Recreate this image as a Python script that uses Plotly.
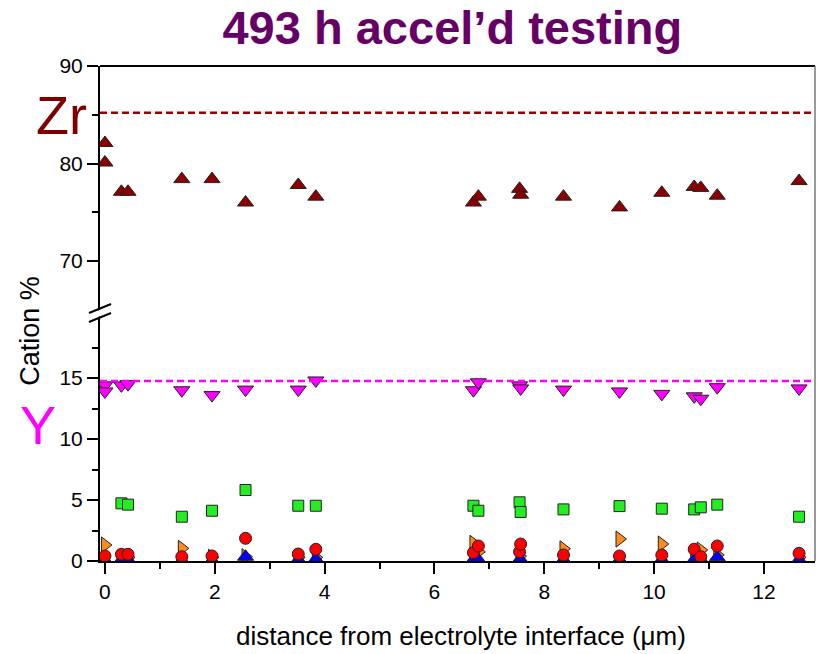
import plotly.graph_objects as go

# ---------------- data ----------------
zr_x = [0, 0, 0.30, 0.42, 1.40, 1.95, 2.56, 3.52, 3.84, 6.71, 6.80, 7.55, 7.57, 8.35, 9.37, 10.14, 10.73, 10.85, 11.15, 12.64]
zr_y = [82.1, 80.1, 77.1, 77.1, 78.4, 78.4, 76.0, 77.8, 76.6, 76.0, 76.6, 77.4, 76.8, 76.6, 75.5, 77.0, 77.6, 77.5, 76.7, 78.2]

y_x = [0, 0, 0.30, 0.42, 1.40, 1.95, 2.56, 3.52, 3.84, 6.71, 6.80, 7.55, 7.57, 8.35, 9.37, 10.14, 10.73, 10.85, 11.15, 12.64]
y_y = [14.4, 13.9, 14.4, 14.5, 14.0, 13.6, 14.05, 14.05, 14.8, 14.0, 14.65, 14.4, 14.15, 14.05, 13.9, 13.7, 13.5, 13.3, 14.25, 14.15]

green_x = [0.30, 0.42, 1.40, 1.95, 2.56, 3.52, 3.84, 6.71, 6.80, 7.55, 7.57, 8.35, 9.37, 10.14, 10.73, 10.85, 11.15, 12.64]
green_y = [4.73, 4.62, 3.63, 4.12, 5.82, 4.53, 4.53, 4.53, 4.12, 4.81, 4.02, 4.23, 4.50, 4.29, 4.23, 4.40, 4.62, 3.63]

orange_x = [0, 0.30, 0.42, 1.40, 1.95, 2.56, 3.52, 3.84, 6.71, 6.80, 7.55, 8.35, 9.37, 10.14, 10.73, 10.85, 11.15, 12.64]
orange_y = [1.31, 0.30, 0.30, 1.04, 0.30, 0.35, 0.30, 0.30, 1.45, 0.75, 0.40, 1.00, 1.80, 1.39, 0.40, 0.90, 0.50, 0.30]

blue_x = [0, 0.30, 0.42, 1.40, 1.95, 2.56, 3.52, 3.84, 6.71, 6.80, 7.55, 7.57, 8.35, 9.37, 10.14, 10.73, 10.85, 11.15, 12.64]
blue_y = [0.05, 0.10, 0.10, 0.05, 0.05, 0.35, 0.10, 0.15, 0.10, 0.10, 0.10, 0.10, 0.10, 0.10, 0.10, 0.10, 0.10, 0.30, 0.10]

red_x = [0, 0.30, 0.42, 1.40, 1.95, 2.56, 3.52, 3.84, 6.71, 6.80, 7.55, 7.57, 8.35, 9.37, 10.14, 10.73, 10.85, 11.15, 12.64]
red_y = [0.41, 0.55, 0.55, 0.35, 0.41, 1.86, 0.57, 0.96, 0.68, 1.23, 0.76, 1.39, 0.49, 0.41, 0.49, 0.96, 0.35, 1.23, 0.63]

ZR_REF = 85.2
Y_REF = 14.75

x_ticks = [0, 2, 4, 6, 8, 10, 12]
low_ticks = [0, 5, 10, 15]
low_minor = [2.5, 7.5, 12.5, 17.5]
high_ticks = [70, 80, 90]
high_minor = [75, 85]

TITLE = "493 h accel\u2019d testing"
XTITLE = "distance from electrolyte interface (\u03bcm)"
YTITLE = "Cation %"

# ---------------- figure ----------------
FONT = "Liberation Sans, Arial, sans-serif"
F = 0.501  # split between lower and upper y segments
EDGE = dict(color="#222222", width=1)

fig = go.Figure()

fig.add_trace(go.Scatter(x=zr_x, y=zr_y, yaxis="y2", mode="markers",
                         marker=dict(symbol="triangle-up", size=14, color="#8B0000", line=EDGE)))
fig.add_trace(go.Scatter(x=y_x, y=y_y, mode="markers",
                         marker=dict(symbol="triangle-down", size=14, color="#FF00FF", line=EDGE)))
fig.add_trace(go.Scatter(x=green_x, y=green_y, mode="markers",
                         marker=dict(symbol="square", size=11, color="#22EE22", line=EDGE)))
fig.add_trace(go.Scatter(x=orange_x, y=orange_y, mode="markers",
                         marker=dict(symbol="triangle-right", size=14, color="#FF8C1A", line=EDGE)))
fig.add_trace(go.Scatter(x=blue_x, y=blue_y, mode="markers",
                         marker=dict(symbol="triangle-up", size=14, color="#0000FF", line=EDGE)))
fig.add_trace(go.Scatter(x=red_x, y=red_y, mode="markers",
                         marker=dict(symbol="circle", size=12, color="#FF0000", line=EDGE)))

axis_common = dict(showline=True, linewidth=2, linecolor="black", showgrid=False, zeroline=False,
                   ticks="outside", ticklen=11, tickwidth=2, tickcolor="black",
                   tickfont=dict(family=FONT, size=21, color="black"))

fig.update_layout(
    width=818, height=654,
    margin=dict(l=100, r=3, t=66, b=93),
    paper_bgcolor="white", plot_bgcolor="white",
    showlegend=False,
    title=dict(text="<b>" + TITLE + "</b>", x=0.553, xref="container", xanchor="center",
               y=1 - 28 / 654, yref="container", yanchor="middle",
               font=dict(family=FONT, size=47, color="#660066")),
    xaxis=dict(range=[-0.09, 12.93], tickvals=x_ticks, anchor="y",
               minor=dict(dtick=1, tick0=0, ticks="outside", ticklen=6, tickwidth=2, tickcolor="black"),
               **axis_common),
    yaxis=dict(domain=[0, F], range=[0, 20.33], tickvals=low_ticks, anchor="x",
               minor=dict(tickvals=low_minor, ticks="outside", ticklen=6, tickwidth=2, tickcolor="black"),
               **axis_common),
    yaxis2=dict(domain=[F, 1], range=[64.67, 90], tickvals=high_ticks, anchor="x",
                minor=dict(tickvals=high_minor, ticks="outside", ticklen=6, tickwidth=2, tickcolor="black"),
                **axis_common),
)

shapes = [
    # reference lines
    dict(type="line", xref="x domain", x0=0, x1=1, yref="y2", y0=ZR_REF, y1=ZR_REF,
         line=dict(color="#990000", width=2.5, dash="7px,4px")),
    dict(type="line", xref="x domain", x0=0, x1=1, yref="y", y0=Y_REF, y1=Y_REF,
         line=dict(color="#FF00FF", width=2.5, dash="7px,4px")),
    # frame top / right
    dict(type="line", xref="paper", x0=0, x1=1, yref="paper", y0=1, y1=1,
         line=dict(color="black", width=2)),
    dict(type="line", xref="paper", x0=1, x1=1, yref="paper", y0=0, y1=1,
         line=dict(color="#777777", width=1.5)),
    # axis break
    dict(type="line", xref="paper", xsizemode="pixel", xanchor=0, x0=-11, x1=11,
         yref="paper", ysizemode="pixel", yanchor=F, y0=-4.5, y1=4.5,
         line=dict(color="white", width=6)),
    dict(type="line", xref="paper", xsizemode="pixel", xanchor=0, x0=-11, x1=11,
         yref="paper", ysizemode="pixel", yanchor=F, y0=0, y1=9,
         line=dict(color="black", width=2)),
    dict(type="line", xref="paper", xsizemode="pixel", xanchor=0, x0=-11, x1=11,
         yref="paper", ysizemode="pixel", yanchor=F, y0=-9, y1=0,
         line=dict(color="black", width=2)),
]
fig.update_layout(shapes=shapes)

annotations = [
    dict(text=XTITLE, xref="paper", yref="paper", x=0.505, y=-0.1515, xanchor="center", yanchor="middle",
         showarrow=False, font=dict(family=FONT, size=26, color="black")),
    dict(text=YTITLE, xref="paper", yref="paper", x=-0.098, y=0.465, xanchor="center", yanchor="middle",
         textangle=-90, showarrow=False, font=dict(family=FONT, size=27, color="black")),
    dict(text="Zr", xref="paper", yref="paper", x=-0.0545, y=0.90, xanchor="center", yanchor="middle",
         showarrow=False, font=dict(family=FONT, size=54, color="#800000")),
    dict(text="Y", xref="paper", yref="paper", x=-0.0867, y=0.275, xanchor="center", yanchor="middle",
         showarrow=False, font=dict(family=FONT, size=54, color="#FF00FF")),
]
fig.update_layout(annotations=annotations)

fig.write_html("out.html")
